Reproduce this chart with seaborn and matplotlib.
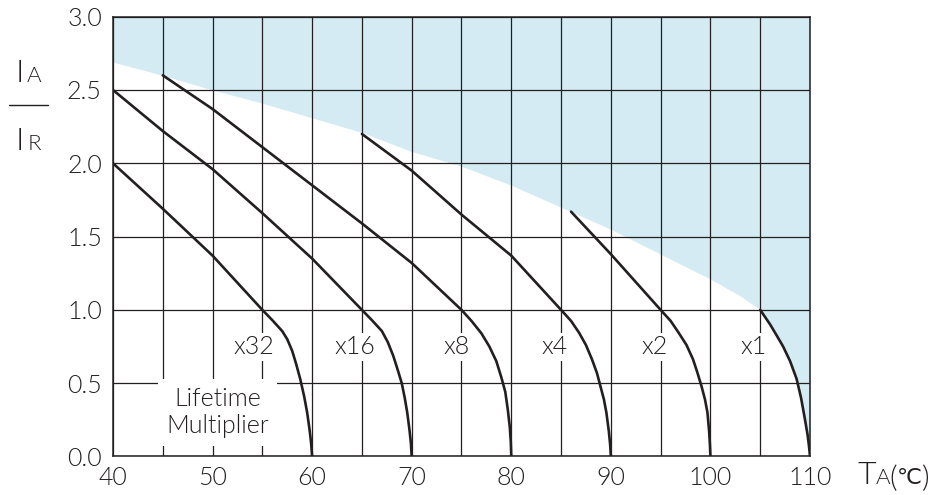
import matplotlib
matplotlib.use("Agg")
import matplotlib.pyplot as plt
import numpy as np
import pandas as pd
import seaborn as sns

# Derating curves: ambient temperature (degC) vs. allowed ripple current ratio IA/IR
t_x32 = [40, 45, 50, 55, 56, 57, 57.5, 58, 58.4, 58.8, 59.2, 59.5, 59.75, 59.9, 60]
r_x32 = [2.0, 1.69, 1.37, 1.0, 0.93, 0.855, 0.80, 0.72, 0.63, 0.53, 0.41, 0.30, 0.18, 0.09, 0.0]

t_x16 = [40, 45, 50, 55, 60, 65, 66, 67, 67.6, 68.15, 68.6, 69, 69.3, 69.55, 69.78, 69.92, 70]
r_x16 = [2.5, 2.22, 1.96, 1.66, 1.35, 1.0, 0.93, 0.856, 0.78, 0.686, 0.59, 0.50, 0.40, 0.30, 0.18, 0.09, 0.0]

t_x8 = [45, 50, 55, 60, 65, 70, 75, 76, 77, 77.8, 78.5, 79, 79.4, 79.65, 79.85, 79.95, 80]
r_x8 = [2.6, 2.37, 2.11, 1.85, 1.59, 1.32, 1.0, 0.925, 0.84, 0.75, 0.65, 0.54, 0.44, 0.32, 0.20, 0.10, 0.0]

t_x4 = [65, 70, 75, 80, 85, 86, 86.8, 87.5, 88.1, 88.6, 88.95, 89.3, 89.55, 89.8, 89.93, 90]
r_x4 = [2.2, 1.95, 1.65, 1.37, 1.0, 0.925, 0.845, 0.76, 0.663, 0.57, 0.48, 0.39, 0.30, 0.17, 0.08, 0.0]

t_x2 = [86, 90, 95, 96, 96.8, 97.6, 98.25, 98.7, 99.1, 99.45, 99.7, 99.87, 99.95, 100]
r_x2 = [1.67, 1.38, 1.0, 0.925, 0.845, 0.76, 0.663, 0.57, 0.48, 0.39, 0.30, 0.17, 0.08, 0.0]

t_x1 = [105, 106, 106.7, 107.3, 108, 108.65, 109.1, 109.5, 109.75, 109.9, 110]
r_x1 = [1.0, 0.9, 0.82, 0.75, 0.65, 0.53, 0.40, 0.25, 0.15, 0.07, 0.0]

# Upper limit of the usable region (shaded area lies above it)
limit_t = [40, 45, 50, 55, 60, 65, 70, 75, 80, 83, 85, 86, 90, 95, 100, 103]
limit_r = [2.69, 2.60, 2.50, 2.41, 2.31, 2.21, 2.08, 1.98, 1.85, 1.76, 1.70, 1.67, 1.55, 1.38, 1.21, 1.095]

multipliers = ["x32", "x16", "x8", "x4", "x2", "x1"]
label_t = [54.1, 64.3, 74.5, 84.3, 94.4, 104.3]
label_r = [0.75, 0.75, 0.75, 0.75, 0.75, 0.75]

x_ticks = [40, 50, 60, 70, 80, 90, 100, 110]
y_ticks = [0.0, 0.5, 1.0, 1.5, 2.0, 2.5, 3.0]

curves = {
    "x32": (t_x32, r_x32), "x16": (t_x16, r_x16), "x8": (t_x8, r_x8),
    "x4": (t_x4, r_x4), "x2": (t_x2, r_x2), "x1": (t_x1, r_x1),
}
df = pd.concat(
    [pd.DataFrame({"T": t, "ratio": r, "mult": m}) for m, (t, r) in curves.items()],
    ignore_index=True,
)

sns.set_theme(style="white")
FONT = ["Lato", "DejaVu Sans"]
plt.rcParams["font.family"] = FONT
plt.rcParams["font.weight"] = 300
INK = "#231f20"
SHADE = "#d4ebf3"

fig = plt.figure(figsize=(9.36, 4.95), dpi=100)
ax = fig.add_axes([0.1207, 0.0778, 0.7447, 0.8885])

# shaded region above the limit envelope (continues down along the x1 curve)
env_t = limit_t + t_x1
env_r = limit_r + r_x1
ax.fill_between(env_t, env_r, 3.0, color=SHADE, lw=0, zorder=0.2)

sns.lineplot(data=df, x="T", y="ratio", hue="mult", units="mult", estimator=None,
             sort=False, palette=[INK] * len(curves), legend=False,
             linewidth=1.9, ax=ax, zorder=5)
for ln in ax.lines:
    ln.set_solid_joinstyle("round")

ax.set_xlim(40, 110)
ax.set_ylim(0, 3.0)
ax.set_xticks(x_ticks)
ax.set_xticks(np.arange(40, 111, 5), minor=True)
ax.set_yticks(y_ticks)
ax.set_xticklabels([str(v) for v in x_ticks])
ax.set_yticklabels([f"{v:.1f}" for v in y_ticks])
ax.tick_params(axis="both", which="both", length=0, labelsize=18, colors=INK)
ax.tick_params(axis="x", pad=7)
ax.tick_params(axis="y", pad=8)
ax.grid(True, which="both", color=INK, linewidth=0.9, zorder=1)
ax.set_axisbelow(True)
for s in ax.spines.values():
    s.set_color(INK)
    s.set_linewidth(1.1)
    s.set_zorder(6)
ax.set_xlabel("")
ax.set_ylabel("")

box = dict(facecolor="white", edgecolor="none", pad=1.5)
for m, tx, ry in zip(multipliers, label_t, label_r):
    ax.text(tx, ry, m, ha="center", va="center", fontsize=18, color=INK,
            bbox=box, zorder=4)

ax.text(50.5, 0.30, "Lifetime\nMultiplier", ha="center", va="center",
        fontsize=18, color=INK, linespacing=1.15,
        bbox=dict(facecolor="white", edgecolor="none", pad=6), zorder=4)

# y-axis label IA / IR drawn as a fraction
W, H = 936, 495
def ftext(px, py, s, size, family=FONT, **kw):
    fig.text(px / W, 1 - py / H, s, fontsize=size, color=INK, va="baseline",
             ha="left", family=family, **kw)

ftext(16, 82, "I", 23)
ftext(27, 82, "A", 16)
fig.add_artist(plt.Line2D([9 / W, 48 / W], [1 - 105 / H, 1 - 105 / H],
                          color=INK, lw=1.0))
ftext(16, 150, "I", 23)
ftext(28, 150, "R", 16)

# x-axis label TA(℃)
ftext(857, 484, "T", 23)
ftext(876, 484, "A", 16)
ftext(889, 487, "(", 21)
ftext(897, 484, "℃", 16, family=["DejaVu Sans"], fontweight="normal")
ftext(922, 487, ")", 21)

fig.savefig("out.png", dpi=100)
